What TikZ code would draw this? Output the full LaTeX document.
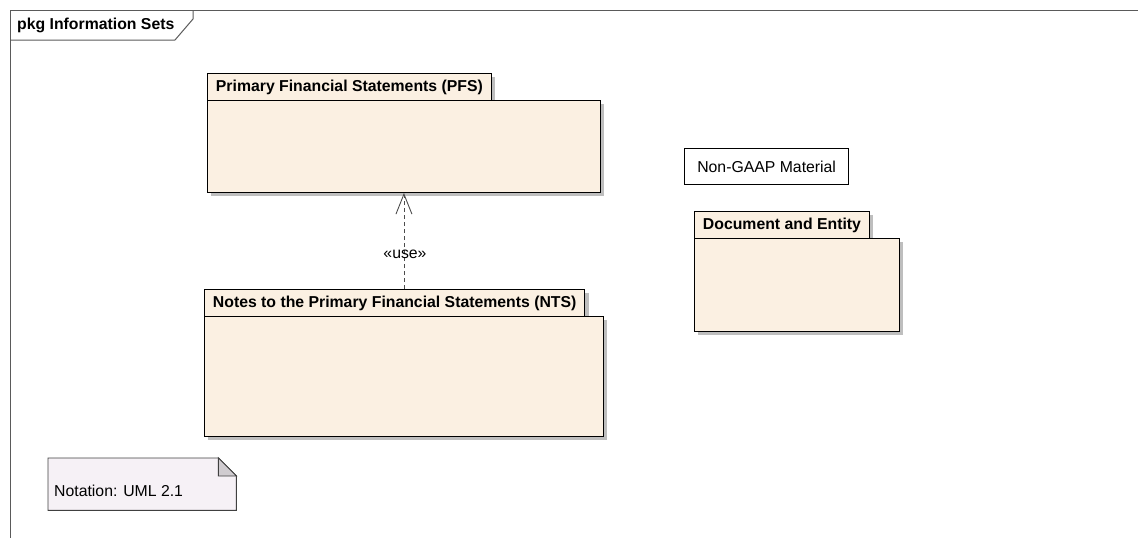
\documentclass[tikz,border=0pt]{standalone}
\usepackage{fontspec}
\setmainfont{Liberation Sans}
\usetikzlibrary{arrows.meta,shadows,calc}
\definecolor{pkgfill}{RGB}{251,240,226}
\definecolor{notefill}{RGB}{246,241,246}
\definecolor{foldfill}{RGB}{208,204,208}
\definecolor{framecol}{RGB}{90,90,90}
\definecolor{shadowcol}{RGB}{190,190,190}
\newcommand{\txt}{\fontsize{15.8}{19}\selectfont}
\tikzset{
  frameline/.style={draw=framecol, line width=1pt},
  pkgshadow/.style={drop shadow={shadow xshift=4pt, shadow yshift=-4pt, fill=shadowcol, opacity=1}},
  pkgtab/.style={draw=black, line width=0.9pt, fill=pkgfill, pkgshadow, anchor=north west,
    inner xsep=8.5pt, inner ysep=0pt, minimum height=27pt, font=\txt\bfseries},
  pkgbody/.style={draw=black, line width=0.9pt, fill=pkgfill, pkgshadow, anchor=north west},
  plainbox/.style={draw=black, line width=1.3pt, fill=white, anchor=north west, font=\txt},
  usearrow/.style={draw=black!70, line width=0.9pt, dash pattern=on 4pt off 3pt,
    -{Straight Barb[length=20pt, width=16pt, line width=0.9pt]}},
}
\begin{document}
\begin{tikzpicture}[x=1pt, y=-1pt]
\useasboundingbox (0,0) rectangle (1138,538);
% frame
\draw[frameline] (1138,10) -- (10,10) -- (10,538);
\draw[frameline] (10,40) -- (175,40) -- (193,19) -- (193,10);
\node[anchor=west, font=\txt\bfseries, inner sep=0pt] (frametitle) at (17,25) {pkg Information Sets};
% PFS package
\node[pkgtab] (pfstab) at (207,73) {Primary Financial Statements (PFS)};
\node[pkgbody, minimum width=393pt, minimum height=92pt] (pfs) at (207,100) {};
% NTS package
\node[pkgtab] (ntstab) at (204,289) {Notes to the Primary Financial Statements (NTS)};
\node[pkgbody, minimum width=399pt, minimum height=120pt] (nts) at (204,316) {};
% Document and Entity package
\node[pkgtab] (detab) at (694,211) {Document and Entity};
\node[pkgbody, minimum width=205pt, minimum height=93pt] (de) at (694,238) {};
% Non-GAAP box
\node[plainbox, minimum width=164pt, minimum height=36pt, inner sep=0pt] (ngaap) at (684,148) {Non-GAAP Material};
% dependency
\draw[usearrow] (pfs.south |- ntstab.north) -- (pfs.south);
\node[font=\txt, inner sep=0pt] (uselabel) at (405,254) {«use»};
% note
\node[minimum width=188pt, minimum height=52pt, anchor=north west, inner sep=0pt] (note) at (48,458) {};
\draw[draw=black!75, line width=0.9pt, fill=notefill]
  (note.north west) -- ($(note.north east)+(-18,0)$) -- ($(note.north east)+(0,18)$)
  -- (note.south east) -- (note.south west) -- cycle;
\draw[draw=black!75, line width=0.9pt, fill=foldfill]
  ($(note.north east)+(-18,0)$) -- ($(note.north east)+(-18,18)$) -- ($(note.north east)+(0,18)$) -- cycle;
\node[anchor=west, font=\txt, inner sep=0pt] (notetext) at (54,491) {Notation: UML 2.1};
\end{tikzpicture}
\end{document}
